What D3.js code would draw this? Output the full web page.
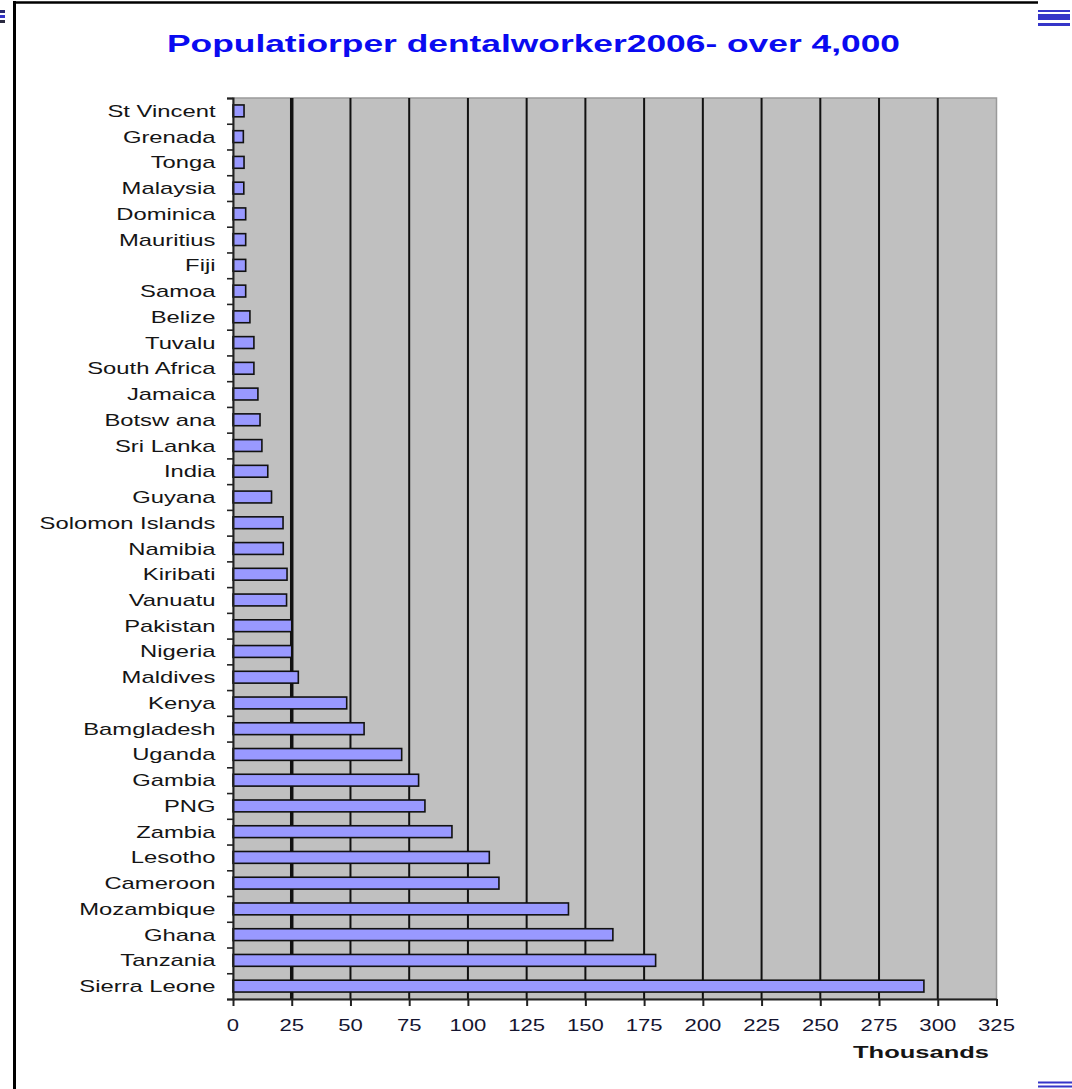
<!DOCTYPE html>
<html>
<head>
<meta charset="utf-8">
<script src="https://cdn.jsdelivr.net/npm/d3@7"></script>
<style>
  html, body { margin: 0; padding: 0; background: #fff; }
  svg { display: block; }
  text { font-family: "Liberation Sans", Arial, sans-serif; }
</style>
</head>
<body>
<script>
// Countries, top to bottom
const categories = [
  "St Vincent", "Grenada", "Tonga", "Malaysia", "Dominica", "Mauritius", "Fiji",
  "Samoa", "Belize", "Tuvalu", "South Africa", "Jamaica", "Botsw ana", "Sri Lanka",
  "India", "Guyana", "Solomon Islands", "Namibia", "Kiribati", "Vanuatu", "Pakistan",
  "Nigeria", "Maldives", "Kenya", "Bamgladesh", "Uganda", "Gambia", "PNG", "Zambia",
  "Lesotho", "Cameroon", "Mozambique", "Ghana", "Tanzania", "Sierra Leone"
];

// Population per dental worker, thousands
const values = [
  4.7, 4.4, 4.7, 4.6, 5.4, 5.4, 5.4,
  5.4, 7.2, 8.9, 8.9, 10.6, 11.5, 12.3,
  14.8, 16.4, 21.3, 21.4, 23.0, 22.8, 25.0,
  25.0, 27.8, 48.4, 55.8, 71.8, 79.0, 81.7, 93.2,
  109.1, 113.2, 142.8, 161.7, 179.9, 294.1
];

const xTickValues = [0, 25, 50, 75, 100, 125, 150, 175, 200, 225, 250, 275, 300, 325];

const titleText = "Populatiorper dentalworker2006- over 4,000";
const xAxisTitle = "Thousands";

const W = 1072, H = 1089;
const plot = { left: 233, right: 996.5, top: 98, bottom: 999 };

const svg = d3.select("body").append("svg")
  .attr("width", W).attr("height", H);

// page frame
svg.append("line").attr("x1", 14.5).attr("x2", 14.5).attr("y1", 1).attr("y2", H)
  .attr("stroke", "#000").attr("stroke-width", 3);
svg.append("line").attr("x1", 13).attr("x2", 1038).attr("y1", 2.5).attr("y2", 2.5)
  .attr("stroke", "#000").attr("stroke-width", 2.5);

// small bar glyphs at page corners
const glyph = svg.append("g").attr("fill", "#3535c8");
[[10, 2], [14, 6], [23, 3]].forEach(([y, h]) =>
  glyph.append("rect").attr("x", 1038).attr("y", y).attr("width", 32).attr("height", h));
[[1081.5, 2], [1085.5, 2]].forEach(([y, h]) =>
  glyph.append("rect").attr("x", 1038).attr("y", y).attr("width", 34).attr("height", h));
const glyphL = svg.append("g");
[[10, "#2a2a70"], [15, "#3535c8"], [20, "#2a2a40"]].forEach(([y, c]) =>
  glyphL.append("rect").attr("x", 0).attr("y", y).attr("width", 5).attr("height", 3).attr("fill", c));

// title
svg.append("text")
  .attr("x", 167).attr("y", 52)
  .attr("font-size", 23).attr("font-weight", "bold")
  .attr("fill", "#0a0af0")
  .attr("textLength", 733).attr("lengthAdjust", "spacingAndGlyphs")
  .text(titleText);

// scales
const x = d3.scaleLinear().domain([0, 325]).range([plot.left, plot.right]);
const y = d3.scaleBand().domain(categories)
  .range([plot.top, plot.bottom])
  .paddingInner(0.54).paddingOuter(0.27);
const yIndex = d3.scaleLinear().domain([0, categories.length]).range([plot.top, plot.bottom]);

// plot area
svg.append("rect")
  .attr("x", plot.left).attr("y", plot.top)
  .attr("width", plot.right - plot.left).attr("height", plot.bottom - plot.top)
  .attr("fill", "#c0c0c0").attr("stroke", "#9a9a9a").attr("stroke-width", 1.5);

// vertical gridlines
svg.append("g").selectAll("line")
  .data(xTickValues.filter(v => v > 0 && v < 325))
  .join("line")
  .attr("x1", d => x(d)).attr("x2", d => x(d))
  .attr("y1", plot.top).attr("y2", plot.bottom)
  .attr("stroke", "#111")
  .attr("stroke-width", d => d === 25 ? 3.5 : 2);

// bars
svg.append("g").selectAll("rect")
  .data(categories)
  .join("rect")
  .attr("x", x(0))
  .attr("y", d => y(d))
  .attr("width", (d, i) => x(values[i]) - x(0))
  .attr("height", y.bandwidth())
  .attr("fill", "#9999ff")
  .attr("stroke", "#111")
  .attr("stroke-width", 1.6);

// y axis: ticks at category boundaries
const yAxis = svg.append("g")
  .attr("transform", `translate(${plot.left},0)`)
  .call(d3.axisLeft(yIndex).ticks(categories.length).tickSize(6).tickFormat(""));
yAxis.select(".domain").attr("stroke", "#222").attr("stroke-width", 2);
yAxis.selectAll(".tick line").attr("stroke", "#222").attr("stroke-width", 1.6);

// x axis
const xAxis = svg.append("g")
  .attr("transform", `translate(0,${plot.bottom})`)
  .call(d3.axisBottom(x).tickValues(xTickValues).tickSize(7).tickSizeOuter(0).tickFormat(""));
xAxis.select(".domain").attr("stroke", "#222").attr("stroke-width", 2);
xAxis.selectAll(".tick line").attr("stroke", "#222").attr("stroke-width", 2);

// category labels
svg.append("g").selectAll("text")
  .data(categories)
  .join("text")
  .attr("transform", d => `translate(215.5,${y(d) + y.bandwidth() / 2 + 6}) scale(1.4,1)`)
  .attr("text-anchor", "end")
  .attr("font-size", 17)
  .attr("fill", "#151515")
  .text(d => d);

// x tick labels
svg.append("g").selectAll("text")
  .data(xTickValues)
  .join("text")
  .attr("transform", d => `translate(${x(d)},1030.5) scale(1.3,1)`)
  .attr("text-anchor", "middle")
  .attr("font-size", 17)
  .attr("fill", "#151530")
  .text(d => d);

// axis title
svg.append("text")
  .attr("x", 853).attr("y", 1058)
  .attr("font-size", 17).attr("font-weight", "bold")
  .attr("fill", "#151515")
  .attr("textLength", 136).attr("lengthAdjust", "spacingAndGlyphs")
  .text(xAxisTitle);
</script>
</body>
</html>
